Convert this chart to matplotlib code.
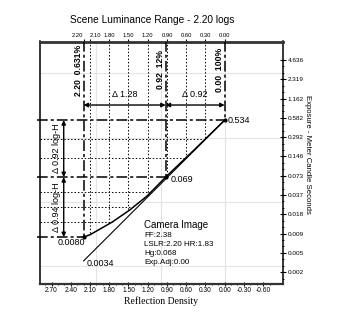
import numpy as np
import matplotlib
matplotlib.use("Agg")
import matplotlib.pyplot as plt
from matplotlib.ticker import FixedLocator, NullFormatter

plt.rcParams["font.family"] = ["Liberation Sans", "DejaVu Sans"]
plt.rcParams["axes.unicode_minus"] = False

# characteristic curve (reflection density vs exposure, meter candle seconds)
curve_density = [2.20, 2.10, 1.75, 1.48, 1.21, 0.92, 0.70, 0.46, 0.00]
curve_exposure = [0.0080, 0.0087, 0.0138, 0.0212, 0.035, 0.069, 0.112, 0.19, 0.534]

# reference straight line (gamma 1)
line_density = [2.20, 0.00]
line_exposure = [0.0034, 0.534]

# marked points
key_density = [2.20, 0.92, 0.00]
key_exposure = [0.0080, 0.069, 0.534]
key_labels = ["0.0080", "0.069", "0.534"]
key_pct = ["0.631%", "12%", "100%"]

delta_density = ["Δ 1.28", "Δ 0.92"]
delta_logh = ["Δ 0.92 log-H", "Δ 0.94 log-H"]

top_ticks = [2.20, 2.10, 1.80, 1.50, 1.20, 0.90, 0.60, 0.30, 0.00]
bottom_ticks = [2.70, 2.40, 2.10, 1.80, 1.50, 1.20, 0.90, 0.60, 0.30, 0.00, -0.30, -0.60]
right_tick_values = [4.636, 2.318, 1.159, 0.5795, 0.2898, 0.1449, 0.0724, 0.0362,
                     0.0181, 0.00906, 0.00453, 0.00226]
right_tick_labels = ["4.636", "2.319", "1.162", "0.582", "0.292", "0.146", "0.073",
                     "0.037", "0.018", "0.009", "0.005", "0.002"]

info_lines = ["FF:2.38", "LSLR:2.20 HR:1.83", "Hg:0.068", "Exp.Adj:0.00"]

fig = plt.figure(figsize=(3.45, 3.28), dpi=100)
ax = fig.add_axes([40 / 345, 1 - 284 / 328, 243 / 345, 242.5 / 328])
ax.set_yscale("log")
ax.set_xlim(2.88, -0.91)
ax.set_ylim(10 ** -2.829, 10 ** 0.955)

# faint background grid
for d in [2.0, 1.0, 0.0]:
    ax.axvline(d, color="#e4e4e4", lw=0.8, zorder=0)
for e in [2.9, 0.28, 0.028, 0.0028]:
    ax.axhline(e, color="#e4e4e4", lw=0.8, zorder=0)

cd = np.array(curve_density)
ce = np.log10(curve_exposure)
ytop = ax.get_ylim()[1]
xleft = ax.get_xlim()[0]

def curve_at_density(d):
    return 10 ** np.interp(d, cd[::-1], ce[::-1])

def curve_at_exposure(e):
    return np.interp(np.log10(e), ce, cd)

# dotted verticals from the top axis down to the curve
for d in top_ticks:
    if d in key_density:
        continue
    ax.plot([d, d], [ytop, curve_at_density(d)], color="black", lw=0.7,
            ls=(0, (1.5, 2)), zorder=2)

# dotted horizontals from the left edge to the curve
levels = list(np.geomspace(key_exposure[2], key_exposure[1], 4)[1:-1]) + \
    list(np.geomspace(key_exposure[1], key_exposure[0], 5)[1:-1])
for e in levels:
    ax.plot([xleft, curve_at_exposure(e)], [e, e], color="black", lw=0.7,
            ls=(0, (1.5, 2)), zorder=2)

# heavy dash-dot lines at the key points
dash = (0, (7, 2, 2, 2))
for d, e in zip(key_density, key_exposure):
    ax.plot([d, d], [ytop, e], color="black", lw=1.1, ls=dash, zorder=3)
    ax.plot([xleft + 0.05, d], [e, e], color="black", lw=1.1, ls=dash, zorder=3,
            clip_on=False)

ax.plot(curve_density, curve_exposure, color="black", lw=1.1, zorder=4)
ax.plot(line_density, line_exposure, color="black", lw=0.8, zorder=4)
ax.plot(key_density, key_exposure, "o", color="black", ms=2, zorder=5)

# point labels
ax.text(key_density[0] + 0.4, key_exposure[0] * 0.83, key_labels[0], fontsize=6.5,
        ha="left", va="center")
ax.text(key_density[1] - 0.08, key_exposure[1] * 0.93, key_labels[1], fontsize=6.5,
        ha="left", va="center")
ax.text(key_density[2] - 0.05, key_exposure[2], key_labels[2], fontsize=6.5,
        ha="left", va="center")
ax.text(line_density[0] - 0.04, line_exposure[0] * 0.92, "0.0034", fontsize=6.5,
        ha="left", va="center")

# percentage labels at the top
for d, p in zip(key_density, key_pct):
    ax.text(d + 0.08, 3.24, f"{d:.2f}  {p}", rotation=90, fontsize=6.2,
            fontweight="bold", ha="center", va="center")

# horizontal density arrows
arrow_e = 0.92
for i, lab in enumerate(delta_density):
    d0, d1 = key_density[i], key_density[i + 1]
    ax.annotate("", xy=(d1, arrow_e), xytext=(d0, arrow_e),
                arrowprops=dict(arrowstyle="<|-|>", color="black", lw=1,
                                mutation_scale=6, shrinkA=0, shrinkB=0))
    ax.text((d0 + d1) / 2, arrow_e * 1.25, lab, fontsize=6.5, ha="center",
            va="bottom")

# vertical log-H arrows
arrow_d = 2.51
for i, lab in enumerate(delta_logh):
    e0, e1 = key_exposure[2 - i], key_exposure[1 - i]
    ax.annotate("", xy=(arrow_d, e1), xytext=(arrow_d, e0),
                arrowprops=dict(arrowstyle="<|-|>", color="black", lw=1,
                                mutation_scale=6, shrinkA=0, shrinkB=0))
    ax.text(arrow_d + 0.11, np.sqrt(e0 * e1), lab, rotation=90, fontsize=6.5,
            ha="center", va="center")

# info block
ax.text(0.43, 0.244, "Camera Image", fontsize=7, transform=ax.transAxes,
        ha="left", va="center")
for i, s in enumerate(info_lines):
    ax.text(0.43, 0.198 - i * 0.037, s, fontsize=5.8, transform=ax.transAxes,
            ha="left", va="center")

# axes styling
for side in ["left", "right"]:
    ax.spines[side].set_linewidth(1.1)
ax.spines["top"].set_linewidth(2)
ax.spines["top"].set_color("#333333")
ax.spines["bottom"].set_linewidth(1.6)
ax.spines["bottom"].set_color("#333333")

ax.xaxis.set_major_locator(FixedLocator(bottom_ticks))
ax.xaxis.set_minor_locator(FixedLocator(np.arange(-0.7, 2.85, 0.1)))
ax.set_xticklabels([f"{t:.2f}" for t in bottom_ticks])
ax.tick_params(axis="x", which="major", labelsize=4.8, length=3, width=0.8,
               direction="inout", pad=1)
ax.tick_params(axis="x", which="minor", length=2, width=0.6, direction="inout")
ax.set_xlabel("Reflection Density", fontfamily="Liberation Serif", fontsize=7,
              labelpad=1.5)

ax.yaxis.tick_right()
ax.yaxis.set_major_locator(FixedLocator(right_tick_values))
ax.yaxis.set_minor_locator(FixedLocator(
    [v * 10 ** -0.1 for v in right_tick_values] + [v * 10 ** -0.2 for v in right_tick_values]))
ax.yaxis.set_minor_formatter(NullFormatter())
ax.set_yticklabels(right_tick_labels)
ax.tick_params(axis="y", which="major", labelsize=4.6, length=4, width=0.8,
               direction="inout", pad=1.5)
ax.tick_params(axis="y", which="minor", length=2, width=0.6, direction="inout")

top = ax.secondary_xaxis("top")
top.xaxis.set_major_locator(FixedLocator(top_ticks))
top.set_xticklabels([f"{t:.2f}" for t in top_ticks])
top.tick_params(labelsize=4.2, length=2.5, width=0.8, direction="inout", pad=1)
top.spines["top"].set_visible(False)
tlabels = top.get_xticklabels()
tlabels[0].set_horizontalalignment("right")
tlabels[1].set_horizontalalignment("left")

fig.text(152 / 345, 1 - 20 / 328, "Scene Luminance Range - 2.20 logs", fontsize=7.3,
         ha="center", va="center")
fig.text(308 / 345, 1 - 154 / 328, "Exposure - Meter Candle Seconds", rotation=-90,
         fontsize=5.6, ha="center", va="center")

fig.savefig("out.png", dpi=100)
